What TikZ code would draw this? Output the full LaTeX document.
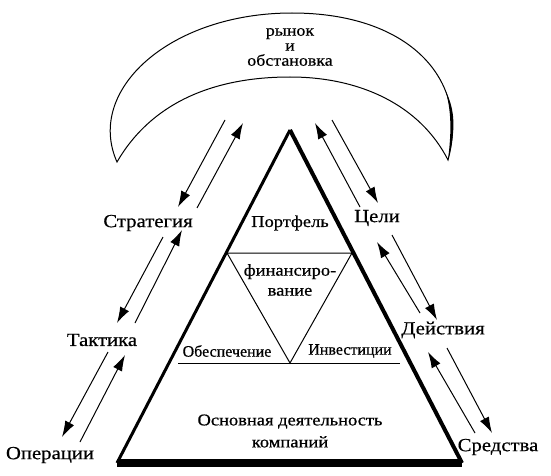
\documentclass[tikz,border=0pt]{standalone}
\usepackage{fontspec}
\setmainfont[FakeBold=0.6]{Liberation Serif}
\newfontfamily\widefont[FakeStretch=1.12,FakeBold=0.6]{Liberation Serif}
\usetikzlibrary{arrows.meta}
\tikzset{
  arr/.style={-{Latex[length=16pt,width=10pt]}, line width=1pt},
  lbl/.style={font=\widefont\fontsize{18.5}{20}\selectfont, inner sep=0pt},
  inlbl/.style={font=\widefont\fontsize{16.5}{20}\selectfont, inner sep=0pt, align=center},
  smlbl/.style={font=\fontsize{16}{20}\selectfont, inner sep=0pt},
}
\begin{document}
\begin{tikzpicture}[x=1pt,y=-1pt]
\useasboundingbox (0,0) rectangle (551,476);
% crescent
\coordinate (cl) at (117,162);
\coordinate (cr) at (448,160);
\draw[line width=1pt] (cl) .. controls (85,90) and (170,13) .. (292,13)
  .. controls (410,13) and (470,80) .. (cr)
  .. controls (420,105) and (360,77) .. (290,77)
  .. controls (210,77) and (150,105) .. (cl) -- cycle;
\fill (cr) .. controls (456,130) and (455,110) .. (446,92) .. controls (452,115) and (451,135) .. (cr);
\node[inlbl, font=\widefont\fontsize{16}{15}\selectfont] (mkt) at (290,47) {рынок\\и\\обстановка};
% triangle
\coordinate (A) at (290,130);
\coordinate (BL) at (117,463);
\coordinate (BR) at (462,463);
\draw[line width=3pt] (A) -- (BL);
\draw[line width=4pt] (A) -- (BR);
\draw[line width=8pt] (BL) -- (BR);
\coordinate (h1l) at (227,253);
\coordinate (h1r) at (352,253);
\coordinate (iv) at (290,363);
\coordinate (h2l) at (178,363);
\coordinate (h2r) at (400,363);
\draw[line width=1pt] (h1l) -- (h1r) -- (iv) -- cycle;
\draw[line width=1pt] (h2l) -- (h2r);
\node[inlbl] (port) at (290,223) {Портфель};
\node[inlbl] (fin) at (290,280) {финансиро-\\вание};
\node[smlbl] (obes) at (227,351) {Обеспечение};
\node[smlbl] (inv) at (350,351) {Инвестиции};
\node[inlbl, font=\widefont\fontsize{16.5}{22}\selectfont] (osn) at (290,431) {Основная деятельность\\компаний};
% labels
\node[lbl] (str) at (148,223) {Стратегия};
\node[lbl] (tak) at (102,340) {Тактика};
\node[lbl] (oper) at (50,455) {Операции};
\node[lbl] (cel) at (377,218) {Цели};
\node[lbl] (dei) at (443,330) {Действия};
\node[lbl] (sred) at (498,447) {Средства};
% arrow endpoints
\coordinate (l1a) at (225,120); \coordinate (l1b) at (178,207);
\coordinate (l2a) at (197,208); \coordinate (l2b) at (243,123);
\coordinate (l3a) at (163,237); \coordinate (l3b) at (117,323);
\coordinate (l4a) at (135,323); \coordinate (l4b) at (182,230);
\coordinate (l5a) at (108,352); \coordinate (l5b) at (62,437);
\coordinate (l6a) at (80,442);  \coordinate (l6b) at (125,355);
\coordinate (r1a) at (360,207); \coordinate (r1b) at (315,123);
\coordinate (r2a) at (332,120); \coordinate (r2b) at (378,203);
\coordinate (r3a) at (420,313); \coordinate (r3b) at (377,242);
\coordinate (r4a) at (392,235); \coordinate (r4b) at (437,320);
\coordinate (r5a) at (475,433); \coordinate (r5b) at (428,352);
\coordinate (r6a) at (447,348); \coordinate (r6b) at (492,433);
\foreach \p in {l1,l2,l3,l4,l5,l6,r1,r2,r3,r4,r5,r6}
  \draw[arr] (\p a) -- (\p b);
\end{tikzpicture}
\end{document}
